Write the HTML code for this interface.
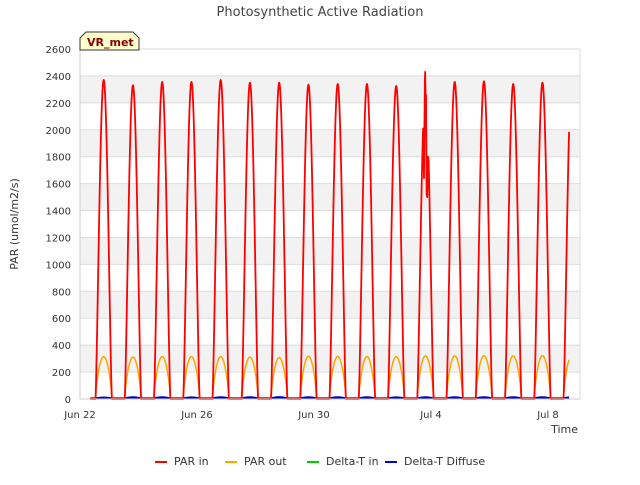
<!DOCTYPE html>
<html><head><meta charset="utf-8"><style>
body{margin:0;background:#fff;font-family:"Liberation Sans","DejaVu Sans",sans-serif}
svg text{font-family:"DejaVu Sans","Liberation Sans",sans-serif}
</style></head><body>
<svg id="c" width="640" height="480" xmlns="http://www.w3.org/2000/svg">
<text x="320" y="16" text-anchor="middle" font-size="13" fill="#444">Photosynthetic Active Radiation</text>
<g id="grid"></g>
<g id="series"></g>
<g id="axes"></g>
<text x="18" y="224" transform="rotate(-90 18 224)" text-anchor="middle" font-size="11" fill="#333">PAR (umol/m2/s)</text>
<text x="578" y="433" text-anchor="end" font-size="11" fill="#333">Time</text>
<g>
<path d="M80,50 L80,38 L86,32 L133,32 L139,38 L139,50 Z" fill="#ffffcc" stroke="#333" stroke-width="1"/>
<text x="87" y="46" font-size="11" font-weight="bold" fill="#8b0000">VR_met</text>
</g>
<g id="legend"></g>
</svg>
<script>
const yTicks=[0,200,400,600,800,1000,1200,1400,1600,1800,2000,2200,2400,2600];
const xTickLabels=["Jun 22","Jun 26","Jun 30","Jul 4","Jul 8"];
const xTickDays=[0,4,8,12,16];
const parInPeaks=[2370,2330,2355,2355,2370,2350,2350,2335,2340,2340,2325,2300,2355,2360,2340,2350,2360];
const parOutPeaks=[315,312,315,315,315,312,308,318,316,315,315,320,320,322,320,322,320];
const diffusePeaks=[10,12,12,11,12,12,13,12,12,12,11,12,12,12,12,12,12];
const jul3Spikes=[[11.74,2010],[11.76,1640],[11.79,2360],[11.8,2430],[11.82,2150],[11.83,2260],[11.85,1520],[11.87,1500],[11.9,1800]];
const dataStart=0.35, dataEnd=16.72;
const riseFrac=0.53, setFrac=1.09;

const X0=80,X1=580,Y0=399,Y1=49,DMAX=(580-80)/29.25;
const xs=d=>X0+d/DMAX*(X1-X0);
const ys=v=>Y0-v/2600*(Y0-Y1);
const NS="http://www.w3.org/2000/svg";
function mk(t,a,p){const e=document.createElementNS(NS,t);for(const k in a)e.setAttribute(k,a[k]);p.appendChild(e);return e;}
const grid=document.getElementById('grid'),axes=document.getElementById('axes'),ser=document.getElementById('series'),leg=document.getElementById('legend');
for(let i=0;i<yTicks.length-1;i++){
 if(i%2===1){const r=mk('rect',{x:X0,y:ys(yTicks[i+1]),width:X1-X0,height:ys(yTicks[i])-ys(yTicks[i+1]),fill:'#f2f2f2'},grid);
 
 }
}
yTicks.forEach(v=>{
 const l=mk('line',{x1:X0,x2:X1,y1:ys(v),y2:ys(v),stroke:'#dddddd','stroke-width':1},grid);
 
 
 const t=mk('text',{x:X0-9,y:ys(v)+4,'text-anchor':'end','font-size':10,fill:'#333'},axes);t.textContent=v;
 
 
});
mk('line',{x1:X1,x2:X1,y1:Y1,y2:Y0,stroke:'#dddddd'},grid);
mk('line',{x1:X0,x2:X1,y1:Y1,y2:Y1,stroke:'#dddddd'},grid);
mk('line',{x1:X0,x2:X0,y1:Y1,y2:Y0,stroke:'#cccccc'},axes);
mk('line',{x1:X0,x2:X1,y1:Y0,y2:Y0,stroke:'#cccccc'},axes);
xTickDays.forEach((d,i)=>{
 const t=mk('text',{x:xs(d),y:Y0+19,'text-anchor':'middle','font-size':10,fill:'#333'},axes);t.textContent=xTickLabels[i];
 
 
});
function daily(peaks,base,shape){
 const pts=[];const step=0.01;
 for(let t=dataStart;t<=dataEnd+1e-9;t+=step){
  const d=Math.floor(t-setFrac+1);let v=base;
  const start=d+riseFrac,end=d+setFrac;
  if(t>=start&&t<=end&&peaks[d]!==undefined){const f=(t-start)/(end-start);v=base+(peaks[d]-base)*Math.pow(Math.sin(Math.PI*f),shape);}
  pts.push([t,v]);
 }
 return pts;
}
function draw(pts,color,w,name){
 const p=mk('path',{d:pts.map((q,i)=>(i?'L':'M')+xs(q[0]).toFixed(2)+','+ys(q[1]).toFixed(2)).join(''),fill:'none',stroke:color,'stroke-width':w,'stroke-linejoin':'round'},ser);
 
 
}
let parIn=daily(parInPeaks,0,1.3);
parIn=parIn.filter(q=>!(q[0]>11.73&&q[0]<11.91)).concat(jul3Spikes).sort((a,b)=>a[0]-b[0]);
draw(daily(diffusePeaks.map(v=>v*0.3),1,1),'#00cc00',1.5,'delta-t-in-line');
draw(daily(diffusePeaks,4,1),'#0000cc',2.2,'delta-t-diffuse-line');
draw(daily(parOutPeaks,0,0.7),'#ffa500',1.5,'par-out-line');
draw(parIn,'#ff0000',1.8,'par-in-line');
const L=[["PAR in","#ff0000",155],["PAR out","#ffa500",225],["Delta-T in","#00cc00",307],["Delta-T Diffuse","#0000cc",385]];
L.forEach(e=>{
 const g=mk('g',{},leg);
 
 
 mk('line',{x1:e[2],x2:e[2]+12,y1:462,y2:462,stroke:e[1],'stroke-width':2},g);
 const t=mk('text',{x:e[2]+19,y:465,'font-size':11,fill:'#333'},g);t.textContent=e[0];
});
</script>
</body></html>
